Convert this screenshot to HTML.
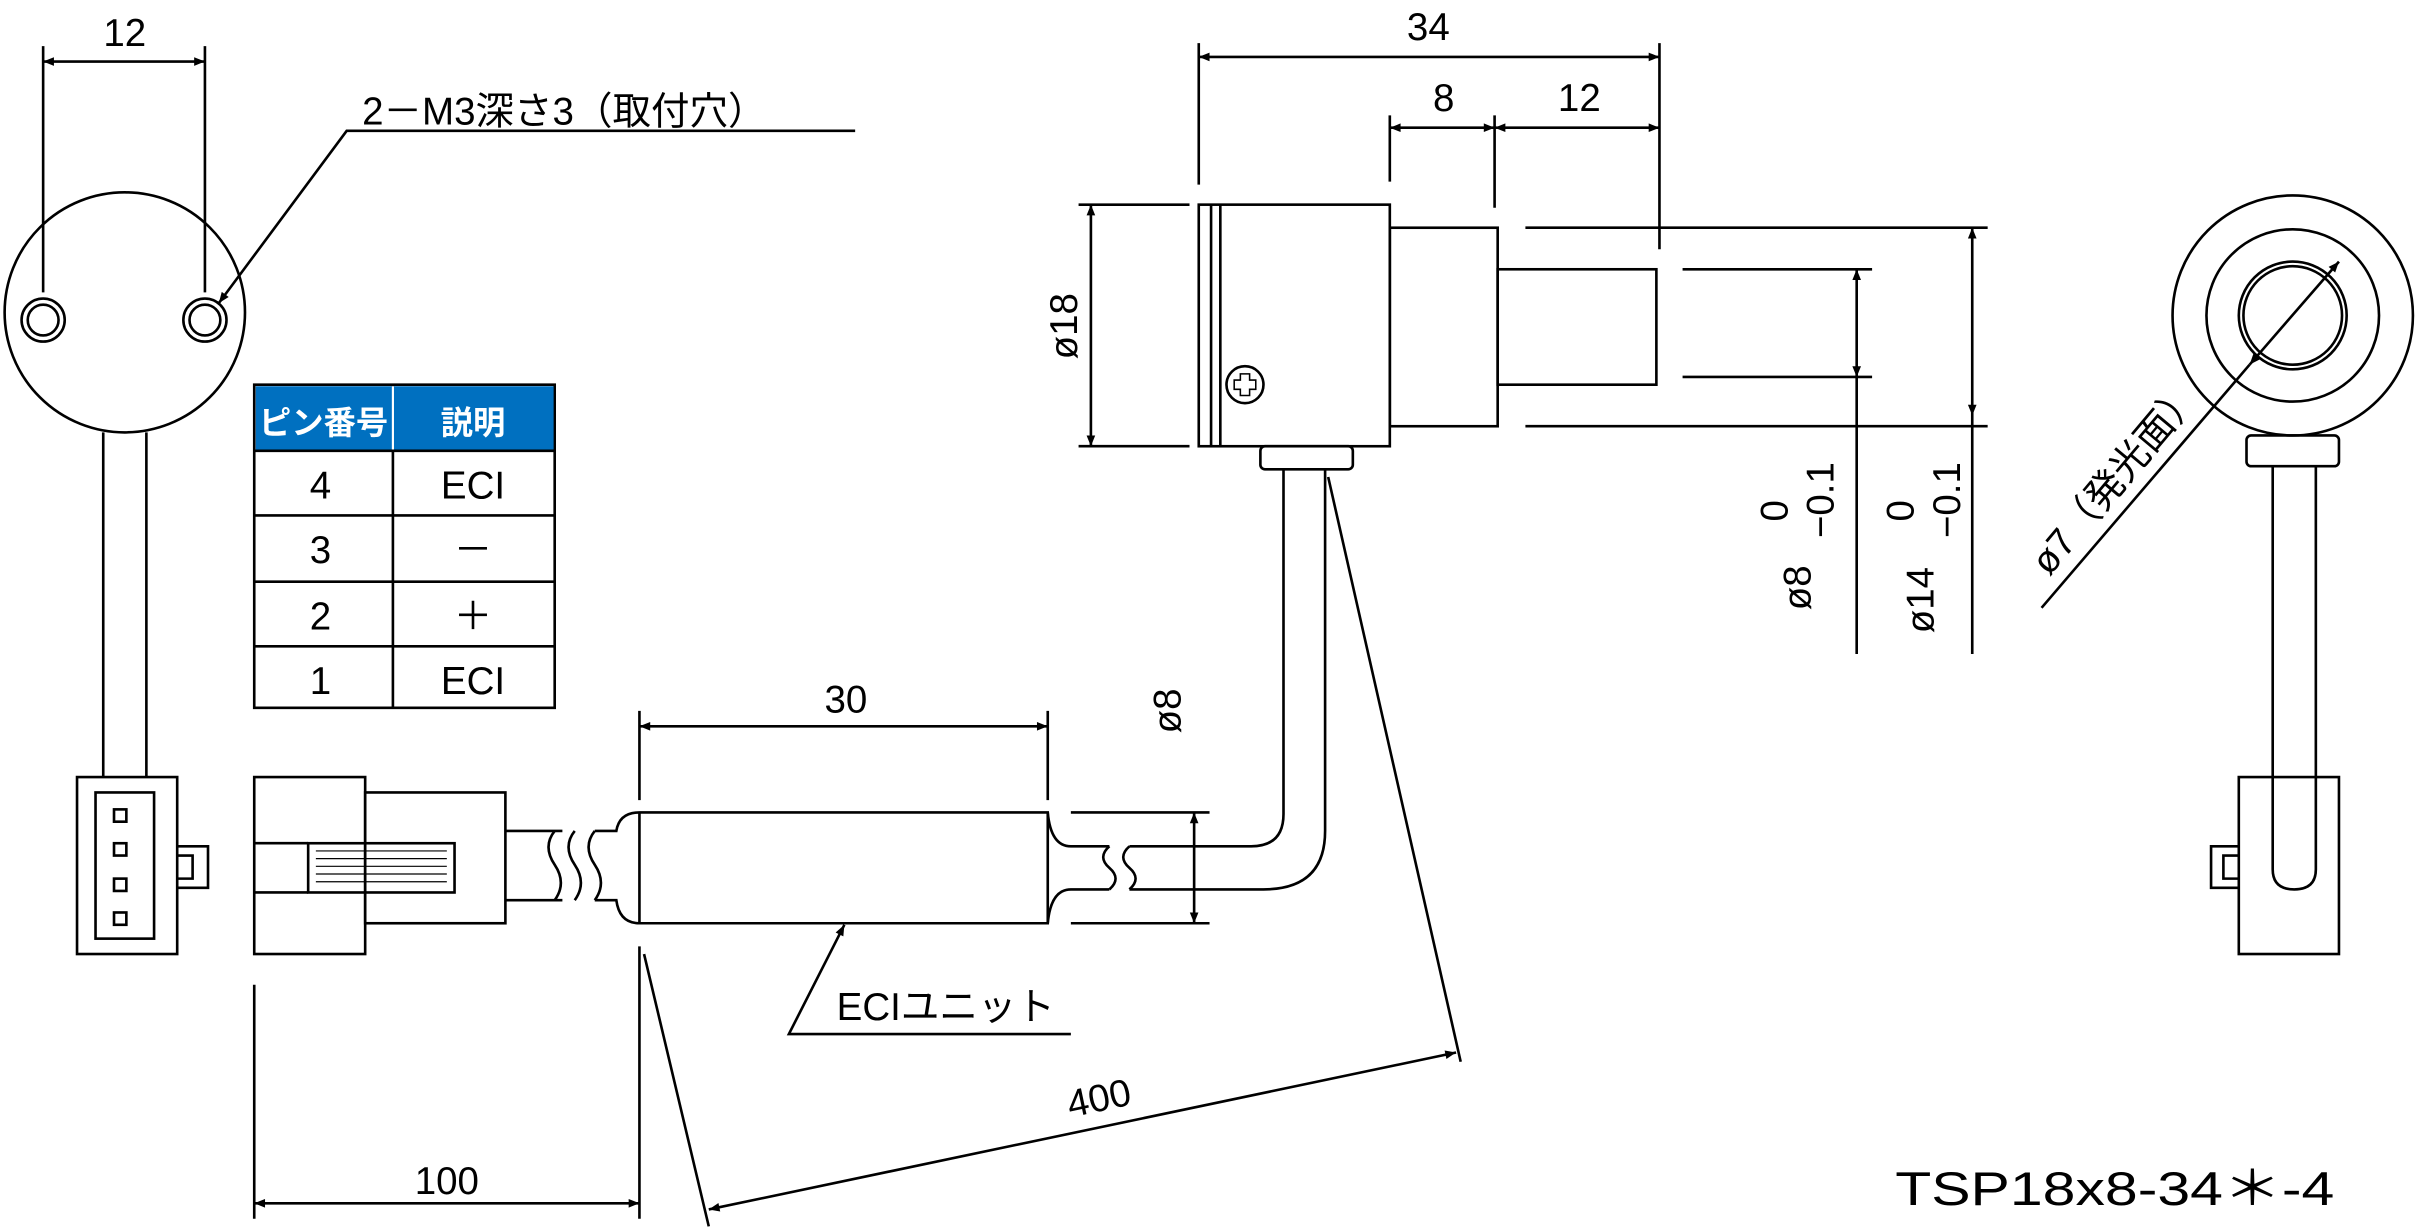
<!DOCTYPE html>
<html><head><meta charset="utf-8"><style>
html,body{margin:0;padding:0;background:#fff;}
svg{display:block;}
text{font-family:"Liberation Sans","Noto Sans CJK JP",sans-serif;fill:#000;}
</style></head><body>
<svg width="2416" height="1231" viewBox="0 0 1568 800" preserveAspectRatio="none" xmlns="http://www.w3.org/2000/svg">
<defs>
<marker id="a" viewBox="0 0 10 10" refX="10" refY="5" markerWidth="10" markerHeight="7" orient="auto-start-reverse" markerUnits="userSpaceOnUse"><path d="M0,1 L10,5 L0,9 z" fill="#000"/></marker>
</defs>
<g fill="none" stroke="#000" stroke-width="1.7">
<circle cx="81" cy="203" r="78"/>
<circle cx="28" cy="208" r="14"/><circle cx="28" cy="208" r="10"/>
<circle cx="133" cy="208" r="14"/><circle cx="133" cy="208" r="10"/>
<line x1="28" y1="30" x2="28" y2="190"/><line x1="133" y1="30" x2="133" y2="190"/>
<line x1="28" y1="40" x2="133" y2="40" marker-start="url(#a)" marker-end="url(#a)"/>
<polyline points="555,85 225,85 142,197" marker-end="url(#a)"/>
<line x1="67" y1="281" x2="67" y2="505"/><line x1="95" y1="281" x2="95" y2="505"/>
<rect x="50" y="505" width="65" height="115"/><rect x="62" y="515" width="38" height="95"/>
<rect x="74" y="526" width="8" height="8"/><rect x="74" y="548" width="8" height="8"/><rect x="74" y="571" width="8" height="8"/><rect x="74" y="593" width="8" height="8"/>
<polyline points="115,550 135,550 135,577 115,577"/><polyline points="115,556 125,556 125,571 115,571"/>
<rect x="165" y="505" width="72" height="115"/>
<rect x="237" y="515" width="91" height="85"/>
<rect x="200" y="548" width="95" height="32"/>
<line x1="165" y1="548" x2="200" y2="548"/><line x1="165" y1="580" x2="200" y2="580"/>
<g stroke-width="0.8"><line x1="205" y1="553" x2="290" y2="553"/><line x1="205" y1="558" x2="290" y2="558"/><line x1="205" y1="563" x2="290" y2="563"/><line x1="205" y1="568" x2="290" y2="568"/><line x1="205" y1="573" x2="290" y2="573"/></g>
<line x1="328" y1="540" x2="365" y2="540"/><line x1="328" y1="585" x2="365" y2="585"/>
<path d="M360,540 q-8,10 0,22 q8,12 0,23"/><path d="M373,540 q-8,10 0,22 q8,12 0,23"/>
<path d="M386,540 q-8,10 0,22 q8,12 0,23"/>
<path d="M386,540 L400,540 Q402,528 415,528 L680,528 Q682,550 695,550 L720,550"/>
<path d="M386,585 L400,585 Q402,600 415,600 L680,600 Q682,578 695,578 L720,578"/>
<line x1="415" y1="528" x2="415" y2="600"/><line x1="680" y1="528" x2="680" y2="600"/>
<path d="M720,550 q-8,7 0,14 q8,7 0,14"/><path d="M733,550 q-8,7 0,14 q8,7 0,14"/>
<path d="M733,550 L812,550 Q833,550 833,529 L833,305"/>
<path d="M733,578 L820,578 Q860,578 860,540 L860,305"/>
<rect x="778" y="133" width="124" height="157"/>
<line x1="786" y1="133" x2="786" y2="290"/><line x1="792" y1="133" x2="792" y2="290"/>
<rect x="818" y="290" width="60" height="15" rx="3"/>
<rect x="902" y="148" width="70" height="129"/>
<rect x="972" y="175" width="103" height="75"/>
<circle cx="808" cy="250" r="12"/>
<path d="M805,243 h6 v4 h4 v6 h-4 v4 h-6 v-4 h-4 v-6 h4 z" stroke-width="1"/>
<line x1="778" y1="28" x2="778" y2="120"/><line x1="1077" y1="28" x2="1077" y2="162"/>
<line x1="902" y1="75" x2="902" y2="118"/><line x1="970" y1="75" x2="970" y2="135"/>
<line x1="778" y1="37" x2="1077" y2="37" marker-start="url(#a)" marker-end="url(#a)"/>
<line x1="902" y1="83" x2="970" y2="83" marker-start="url(#a)" marker-end="url(#a)"/>
<line x1="970" y1="83" x2="1077" y2="83" marker-start="url(#a)" marker-end="url(#a)"/>
<line x1="700" y1="133" x2="772" y2="133"/><line x1="700" y1="290" x2="772" y2="290"/>
<line x1="708" y1="133" x2="708" y2="290" marker-start="url(#a)" marker-end="url(#a)"/>
<line x1="990" y1="148" x2="1290" y2="148"/><line x1="990" y1="277" x2="1290" y2="277"/>
<line x1="1092" y1="175" x2="1215" y2="175"/><line x1="1092" y1="245" x2="1215" y2="245"/>
<line x1="1205" y1="175" x2="1205" y2="245" marker-start="url(#a)" marker-end="url(#a)"/>
<line x1="1205" y1="245" x2="1205" y2="425"/>
<line x1="1280" y1="148" x2="1280" y2="270" marker-start="url(#a)" marker-end="url(#a)"/>
<line x1="1280" y1="270" x2="1280" y2="425"/>
<circle cx="1488" cy="205" r="78"/><circle cx="1488" cy="205" r="56"/><circle cx="1488" cy="205" r="35"/><circle cx="1488" cy="205" r="32"/>
<rect x="1458" y="283" width="60" height="20" rx="3"/>
<path d="M1475,303 L1475,565 Q1475,578 1489,578 Q1503,578 1503,565 L1503,303"/>
<rect x="1453" y="505" width="65" height="115"/>
<polyline points="1453,550 1435,550 1435,577 1453,577"/><polyline points="1453,556 1443,556 1443,571 1453,571"/>
<line x1="1325" y1="395" x2="1460" y2="237"/>
<line x1="1460" y1="237" x2="1518" y2="170" marker-start="url(#a)" marker-end="url(#a)"/>
<rect x="165" y="250" width="195" height="210"/>
<line x1="255" y1="250" x2="255" y2="460"/>
<line x1="165" y1="335" x2="360" y2="335"/><line x1="165" y1="378" x2="360" y2="378"/><line x1="165" y1="420" x2="360" y2="420"/>
<line x1="415" y1="462" x2="415" y2="520"/><line x1="680" y1="462" x2="680" y2="520"/>
<line x1="415" y1="472" x2="680" y2="472" marker-start="url(#a)" marker-end="url(#a)"/>
<line x1="695" y1="528" x2="785" y2="528"/><line x1="695" y1="600" x2="785" y2="600"/>
<line x1="775" y1="528" x2="775" y2="600" marker-start="url(#a)" marker-end="url(#a)"/>
<polyline points="695,672 512,672 548,601" marker-end="url(#a)"/>
<line x1="165" y1="640" x2="165" y2="792"/><line x1="415" y1="615" x2="415" y2="792"/>
<line x1="165" y1="782" x2="415" y2="782" marker-start="url(#a)" marker-end="url(#a)"/>
<line x1="418" y1="620" x2="460" y2="797"/><line x1="862" y1="310" x2="948" y2="690"/>
<line x1="460" y1="786" x2="945" y2="684" marker-start="url(#a)" marker-end="url(#a)"/>
</g>
<rect x="166" y="251" width="193.3" height="42" fill="#0070c0"/>
<line x1="255" y1="251" x2="255" y2="293" stroke="#fff" stroke-width="1.4"/>
<line x1="165" y1="293" x2="360" y2="293" stroke="#000" stroke-width="1.7"/>
<g font-size="25" text-anchor="middle">
<text x="210" y="282" style="fill:#fff" font-size="21" font-weight="bold">ピン番号</text>
<text x="307" y="282" style="fill:#fff" font-size="21" font-weight="bold">説明</text>
<text x="208" y="324">4</text><text x="307" y="324">ECI</text>
<text x="208" y="366">3</text><text x="307" y="366">－</text>
<text x="208" y="409">2</text><text x="307" y="409">＋</text>
<text x="208" y="451">1</text><text x="307" y="451">ECI</text>
<text x="81" y="30">12</text>
<text x="927" y="26">34</text>
<text x="937" y="72">8</text>
<text x="1025" y="72">12</text>
<text x="549" y="463">30</text>
<text x="290" y="776">100</text>
</g>
<g font-size="25">
<text x="235" y="81">2－M3深さ3（取付穴）</text>
<text x="543" y="663">ECIユニット</text>
<text x="1230" y="783" font-size="31" textLength="285" lengthAdjust="spacingAndGlyphs">TSP18x8-34＊-4</text>
<text transform="translate(699,212) rotate(-90)" text-anchor="middle">ø18</text>
<text transform="translate(766,462) rotate(-90)" text-anchor="middle">ø8</text>
<text transform="translate(1160,332) rotate(-90)" text-anchor="middle">0</text>
<text transform="translate(1190,325) rotate(-90)" text-anchor="middle">−0.1</text>
<text transform="translate(1175,382) rotate(-90)" text-anchor="middle">ø8</text>
<text transform="translate(1242,332) rotate(-90)" text-anchor="middle">0</text>
<text transform="translate(1272,325) rotate(-90)" text-anchor="middle">−0.1</text>
<text transform="translate(1255,390) rotate(-90)" text-anchor="middle">ø14</text>
<text transform="translate(1330,375) rotate(-50)">ø7（発光面）</text>
<text transform="translate(715,722) rotate(-12)" text-anchor="middle">400</text>
</g>
</svg>
</body></html>
